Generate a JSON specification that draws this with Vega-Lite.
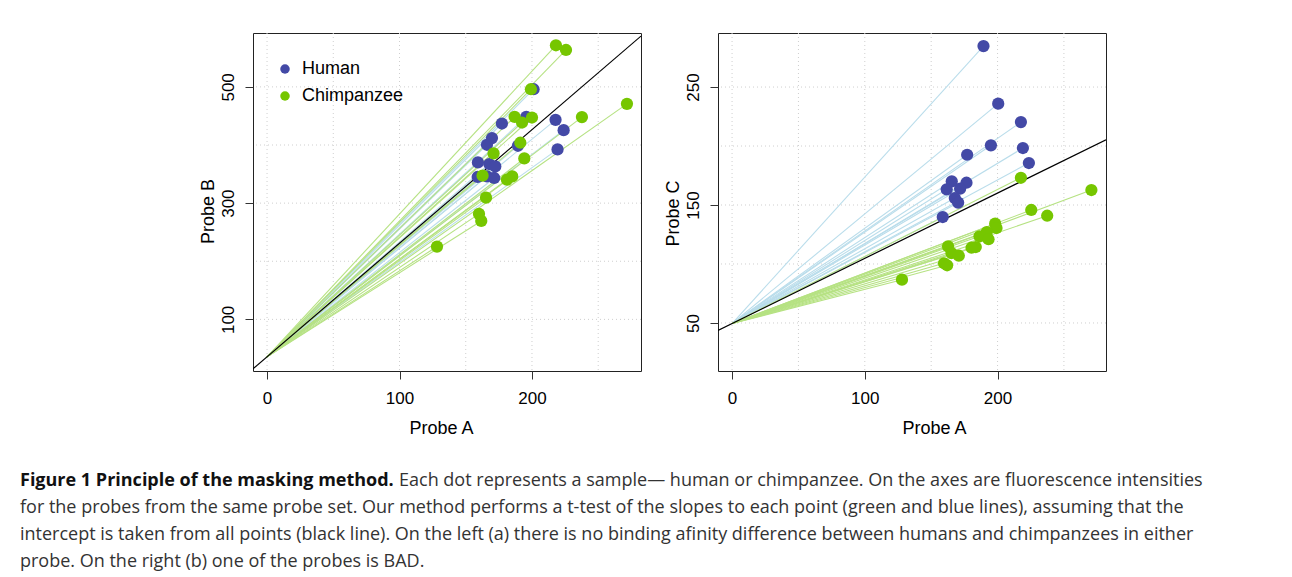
{
  "$schema": "https://vega.github.io/schema/vega-lite/v6.json",
  "padding": {"left": 20, "top": 32, "right": 0, "bottom": 0},
  "background": "white",
  "config": {
    "view": {"stroke": "#222", "strokeWidth": 1},
    "font": "Liberation Sans",
    "axis": {"domain": false, "grid": false, "tickColor": "#333", "tickSize": 8, "tickWidth": 1,
      "labelFont": "Liberation Sans", "labelFontSize": 17, "labelColor": "#000",
      "titleFont": "Liberation Sans", "titleFontSize": 18, "titleFontWeight": "normal", "titleColor": "#000"},
    "axisX": {"labelPadding": 11, "titlePadding": 13},
    "axisY": {"labelAngle": -90, "labelAlign": "center", "labelBaseline": "bottom", "labelPadding": 8, "titlePadding": 2}
  },
  "datasets": {
    "leftPts": [
      {"group": "Human", "x": 201.2, "y": 496.0},
      {"group": "Human", "x": 177.3, "y": 437.0},
      {"group": "Human", "x": 195.7, "y": 448.5},
      {"group": "Human", "x": 217.8, "y": 443.3},
      {"group": "Human", "x": 223.9, "y": 425.6},
      {"group": "Human", "x": 169.8, "y": 411.9},
      {"group": "Human", "x": 166.0, "y": 400.4},
      {"group": "Human", "x": 189.4, "y": 398.7},
      {"group": "Human", "x": 219.3, "y": 392.4},
      {"group": "Human", "x": 159.2, "y": 370.0},
      {"group": "Human", "x": 167.8, "y": 367.3},
      {"group": "Human", "x": 172.3, "y": 363.2},
      {"group": "Human", "x": 159.0, "y": 345.0},
      {"group": "Human", "x": 166.0, "y": 346.0},
      {"group": "Human", "x": 171.5, "y": 343.3},
      {"group": "Chimpanzee", "x": 218.1, "y": 571.6},
      {"group": "Chimpanzee", "x": 225.7, "y": 563.5},
      {"group": "Chimpanzee", "x": 199.2, "y": 496.0},
      {"group": "Chimpanzee", "x": 271.7, "y": 470.8},
      {"group": "Chimpanzee", "x": 186.9, "y": 448.5},
      {"group": "Chimpanzee", "x": 200.0, "y": 447.3},
      {"group": "Chimpanzee", "x": 237.7, "y": 448.0},
      {"group": "Chimpanzee", "x": 192.5, "y": 438.7},
      {"group": "Chimpanzee", "x": 191.2, "y": 403.9},
      {"group": "Chimpanzee", "x": 171.0, "y": 385.5},
      {"group": "Chimpanzee", "x": 194.2, "y": 376.9},
      {"group": "Chimpanzee", "x": 162.7, "y": 347.2},
      {"group": "Chimpanzee", "x": 181.1, "y": 340.3},
      {"group": "Chimpanzee", "x": 185.1, "y": 346.0},
      {"group": "Chimpanzee", "x": 165.3, "y": 309.4},
      {"group": "Chimpanzee", "x": 160.0, "y": 281.5},
      {"group": "Chimpanzee", "x": 161.7, "y": 269.4},
      {"group": "Chimpanzee", "x": 128.3, "y": 225.3}
    ],
    "rightPts": [
      {"group": "Human", "x": 189.4, "y": 284.7},
      {"group": "Human", "x": 200.5, "y": 235.9},
      {"group": "Human", "x": 217.6, "y": 220.3},
      {"group": "Human", "x": 195.0, "y": 200.6},
      {"group": "Human", "x": 219.1, "y": 198.3},
      {"group": "Human", "x": 177.1, "y": 192.6},
      {"group": "Human", "x": 223.6, "y": 185.6},
      {"group": "Human", "x": 165.5, "y": 170.1},
      {"group": "Human", "x": 176.6, "y": 168.9},
      {"group": "Human", "x": 161.7, "y": 163.3},
      {"group": "Human", "x": 171.8, "y": 163.8},
      {"group": "Human", "x": 167.8, "y": 155.9},
      {"group": "Human", "x": 170.3, "y": 152.0},
      {"group": "Human", "x": 158.7, "y": 139.8},
      {"group": "Chimpanzee", "x": 217.6, "y": 173.1},
      {"group": "Chimpanzee", "x": 270.7, "y": 162.7},
      {"group": "Chimpanzee", "x": 225.4, "y": 145.8},
      {"group": "Chimpanzee", "x": 237.4, "y": 140.9},
      {"group": "Chimpanzee", "x": 198.2, "y": 134.2},
      {"group": "Chimpanzee", "x": 199.2, "y": 130.5},
      {"group": "Chimpanzee", "x": 191.9, "y": 127.1},
      {"group": "Chimpanzee", "x": 186.4, "y": 123.5},
      {"group": "Chimpanzee", "x": 193.2, "y": 121.0},
      {"group": "Chimpanzee", "x": 162.7, "y": 115.0},
      {"group": "Chimpanzee", "x": 183.6, "y": 114.4},
      {"group": "Chimpanzee", "x": 180.4, "y": 113.8},
      {"group": "Chimpanzee", "x": 165.3, "y": 109.3},
      {"group": "Chimpanzee", "x": 170.8, "y": 107.0},
      {"group": "Chimpanzee", "x": 159.7, "y": 100.6},
      {"group": "Chimpanzee", "x": 162.0, "y": 98.9},
      {"group": "Chimpanzee", "x": 128.0, "y": 86.7}
    ],
    "gridX": [{"x": 0}, {"x": 50}, {"x": 100}, {"x": 150}, {"x": 200}, {"x": 250}],
    "gridYLeft": [{"y": 100}, {"y": 200}, {"y": 300}, {"y": 400}, {"y": 500}],
    "gridYRight": [{"y": 50}, {"y": 100}, {"y": 150}, {"y": 200}, {"y": 250}],
    "ablineLeft": [{"x": -10.6, "y": 14.8, "x2": 282.3, "y2": 587.4}],
    "ablineRight": [{"x": -10.6, "y": 43.6, "x2": 281.7, "y2": 205.3}],
    "caption": [
      {"line": 1, "part": "bold", "text": "Figure 1 Principle of the masking method."},
      {"line": 1, "part": "first", "text": "Each dot represents a sample\u2014 human or chimpanzee. On the axes are fluorescence intensities"},
      {"line": 2, "part": "body", "text": "for the probes from the same probe set. Our method performs a t-test of the slopes to each point (green and blue lines), assuming that the"},
      {"line": 3, "part": "body", "text": "intercept is taken from all points (black line). On the left (a) there is no binding afinity difference between humans and chimpanzees in either"},
      {"line": 4, "part": "body", "text": "probe. On the right (b) one of the probes is BAD."}
    ]
  },
  "vconcat": [
    {
      "hconcat": [
        {
          "width": 156, "height": 338,
          "view": {"stroke": null},
          "data": {"values": [{"a": 0}]},
          "mark": {"type": "point", "opacity": 0},
          "encoding": {}
        },
        {
          "width": 388, "height": 338,
          "layer": [
            {
              "data": {"name": "gridX"},
              "mark": {"type": "rule", "color": "#cfcfcf", "strokeDash": [1, 3], "strokeWidth": 1},
              "encoding": {"x": {"field": "x", "type": "quantitative", "scale": {"domain": [-10.6, 282.3], "nice": false, "zero": false}}}
            },
            {
              "data": {"name": "gridYLeft"},
              "mark": {"type": "rule", "color": "#cfcfcf", "strokeDash": [1, 3], "strokeWidth": 1},
              "encoding": {"y": {"field": "y", "type": "quantitative", "scale": {"domain": [11.2, 592.7], "nice": false, "zero": false}}}
            },
            {
              "data": {"name": "leftPts"},
              "mark": {"type": "rule", "strokeWidth": 1.1, "clip": true},
              "encoding": {
                "x": {"field": "x", "type": "quantitative", "scale": {"domain": [-10.6, 282.3], "nice": false, "zero": false}},
                "y": {"field": "y", "type": "quantitative", "scale": {"domain": [11.2, 592.7], "nice": false, "zero": false}},
                "x2": {"datum": 0},
                "y2": {"datum": 35.5},
                "color": {"condition": {"test": "datum.group === 'Human'", "value": "#BADDEB"}, "value": "#B6E283"}
              }
            },
            {
              "data": {"name": "ablineLeft"},
              "mark": {"type": "rule", "color": "#000", "strokeWidth": 1.2, "clip": true},
              "encoding": {
                "x": {"field": "x", "type": "quantitative"},
                "y": {"field": "y", "type": "quantitative"},
                "x2": {"field": "x2"},
                "y2": {"field": "y2"}
              }
            },
            {
              "data": {"name": "leftPts"},
              "mark": {"type": "circle", "size": 150, "opacity": 1},
              "encoding": {
                "x": {"field": "x", "type": "quantitative", "title": "Probe A",
                  "scale": {"domain": [-10.6, 282.3], "nice": false, "zero": false},
                  "axis": {"values": [0, 100, 200], "titleX": 188}},
                "y": {"field": "y", "type": "quantitative", "title": "Probe B",
                  "scale": {"domain": [11.2, 592.7], "nice": false, "zero": false},
                  "axis": {"values": [100, 300, 500], "titleY": 178}},
                "color": {"field": "group", "type": "nominal",
                  "scale": {"domain": ["Human", "Chimpanzee"], "range": ["#4349A6", "#76C600"]},
                  "legend": {"orient": "none", "legendX": 23, "legendY": 27, "title": null, "padding": 0,
                    "labelFont": "Liberation Sans", "labelFontSize": 18, "labelColor": "#000",
                    "symbolType": "circle", "symbolSize": 90, "symbolStrokeWidth": 0, "symbolOpacity": 1,
                    "rowPadding": 9, "labelOffset": 8}}
              }
            }
          ]
        },
        {
          "width": 388, "height": 338,
          "layer": [
            {
              "data": {"name": "gridX"},
              "mark": {"type": "rule", "color": "#cfcfcf", "strokeDash": [1, 3], "strokeWidth": 1},
              "encoding": {"x": {"field": "x", "type": "quantitative", "scale": {"domain": [-10.6, 281.7], "nice": false, "zero": false}}}
            },
            {
              "data": {"name": "gridYRight"},
              "mark": {"type": "rule", "color": "#cfcfcf", "strokeDash": [1, 3], "strokeWidth": 1},
              "encoding": {"y": {"field": "y", "type": "quantitative", "scale": {"domain": [9.3, 295.8], "nice": false, "zero": false}}}
            },
            {
              "data": {"name": "rightPts"},
              "mark": {"type": "rule", "strokeWidth": 1.1, "clip": true},
              "encoding": {
                "x": {"field": "x", "type": "quantitative", "scale": {"domain": [-10.6, 281.7], "nice": false, "zero": false}},
                "y": {"field": "y", "type": "quantitative", "scale": {"domain": [9.3, 295.8], "nice": false, "zero": false}},
                "x2": {"datum": 0},
                "y2": {"datum": 49.5},
                "color": {"condition": {"test": "datum.group === 'Human'", "value": "#BADDEB"}, "value": "#B6E283"}
              }
            },
            {
              "data": {"name": "ablineRight"},
              "mark": {"type": "rule", "color": "#000", "strokeWidth": 1.2, "clip": true},
              "encoding": {
                "x": {"field": "x", "type": "quantitative"},
                "y": {"field": "y", "type": "quantitative"},
                "x2": {"field": "x2"},
                "y2": {"field": "y2"}
              }
            },
            {
              "data": {"name": "rightPts"},
              "mark": {"type": "circle", "size": 150, "opacity": 1},
              "encoding": {
                "x": {"field": "x", "type": "quantitative", "title": "Probe A",
                  "scale": {"domain": [-10.6, 281.7], "nice": false, "zero": false},
                  "axis": {"values": [0, 100, 200], "titleX": 216}},
                "y": {"field": "y", "type": "quantitative", "title": "Probe C",
                  "scale": {"domain": [9.3, 295.8], "nice": false, "zero": false},
                  "axis": {"values": [50, 150, 250], "titleY": 180}},
                "color": {"field": "group", "type": "nominal",
                  "scale": {"domain": ["Human", "Chimpanzee"], "range": ["#4349A6", "#76C600"]},
                  "legend": null}
              }
            }
          ]
        }
      ],
      "spacing": 77,
      "bounds": "flush",
      "resolve": {"scale": {"color": "independent"}, "legend": {"color": "independent"}}
    },
    {
      "width": 1250,
      "height": {"step": 27},
      "view": {"stroke": null},
      "data": {"name": "caption"},
      "layer": [
        {
          "transform": [{"filter": "datum.part === 'bold'"}],
          "mark": {"type": "text", "align": "left", "baseline": "middle", "font": "Open Sans", "fontSize": 18, "fontWeight": "bold", "color": "#111"},
          "encoding": {"x": {"value": 0}, "y": {"field": "line", "type": "ordinal", "axis": null}, "text": {"field": "text"}}
        },
        {
          "transform": [{"filter": "datum.part === 'first'"}],
          "mark": {"type": "text", "align": "left", "baseline": "middle", "font": "Open Sans", "fontSize": 18, "color": "#333", "dx": 379},
          "encoding": {"x": {"value": 0}, "y": {"field": "line", "type": "ordinal", "axis": null}, "text": {"field": "text"}}
        },
        {
          "transform": [{"filter": "datum.part === 'body'"}],
          "mark": {"type": "text", "align": "left", "baseline": "middle", "font": "Open Sans", "fontSize": 18, "color": "#333"},
          "encoding": {"x": {"value": 0}, "y": {"field": "line", "type": "ordinal", "axis": null}, "text": {"field": "text"}}
        }
      ]
    }
  ],
  "spacing": 434,
  "bounds": "flush"
}
